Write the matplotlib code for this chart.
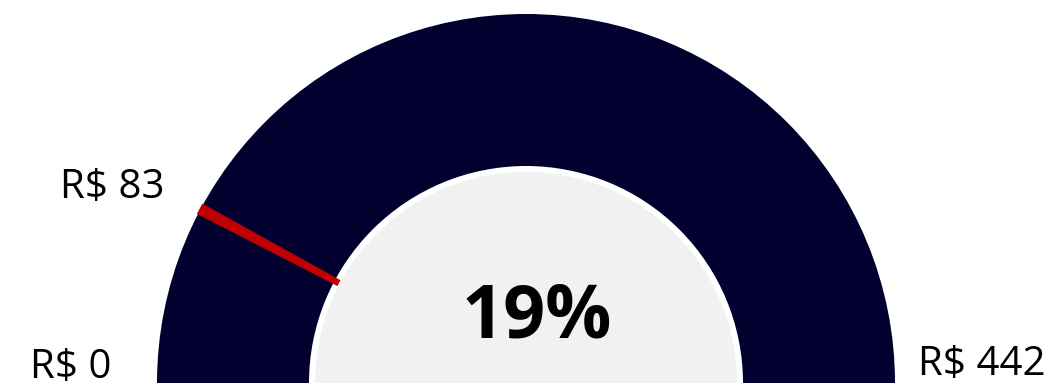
import matplotlib.pyplot as plt
from matplotlib.patches import Wedge

# gauge data
min_val = 0
max_val = 442
target_val = 83
needle_val = 69  # where the needle sits on the arc as drawn
pct_label = "19%"
min_label = "R$ 0"
max_label = "R$ 442"
target_label = "R$ 83"

navy = "#01002f"
red = "#c00000"
gray = "#f1f1f1"

fig = plt.figure(figsize=(10.54, 3.9), dpi=100)
ax = fig.add_axes([0, 0, 1, 1])
ax.set_xlim(0, 1054)
ax.set_ylim(0, 390)
ax.set_aspect("equal")
ax.axis("off")

cx, cy = 526, 7
r_out = 369
r_white = 217
r_in = 211

ax.add_patch(Wedge((cx, cy), r_out, 0, 180, color=navy, lw=0))
ax.add_patch(Wedge((cx, cy), r_white, 0, 180, color="white", lw=0))
ax.add_patch(Wedge((cx, cy), r_in, 0, 180, color=gray, lw=0))

ang = 180 - 180 * (needle_val - min_val) / (max_val - min_val)
ax.add_patch(Wedge((cx, cy), r_out + 1, ang - 0.9, ang + 0.9,
                   width=r_out + 1 - 212, color=red, lw=0))

font = "Open Sans"
ax.text(30, 12, min_label, fontsize=29, family=font, ha="left", va="baseline")
ax.text(918, 15, max_label, fontsize=29, family=font, ha="left", va="baseline")
ax.text(60, 192, target_label, fontsize=29, family=font, ha="left", va="baseline")
ax.text(537, 52, pct_label, fontsize=53, family=font, weight="bold",
        ha="center", va="baseline")

fig.savefig("out.png", dpi=100)
